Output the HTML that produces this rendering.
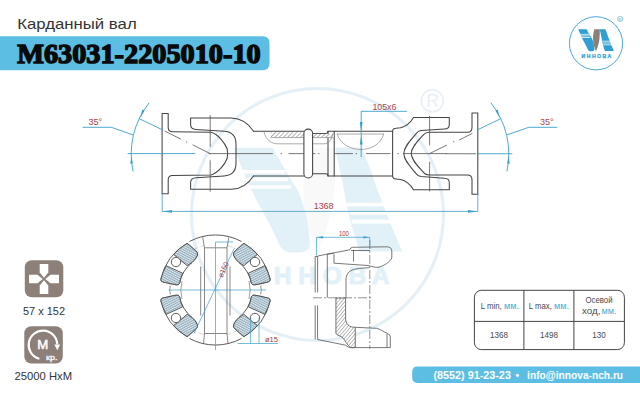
<!DOCTYPE html>
<html><head><meta charset="utf-8">
<style>
html,body{margin:0;padding:0;width:640px;height:400px;overflow:hidden;background:#fff;}
body{position:relative;font-family:"Liberation Sans",sans-serif;}
svg{position:absolute;left:0;top:0;}
text{font-family:"Liberation Sans",sans-serif;}
</style></head><body>
<svg width="640" height="400" viewBox="0 0 640 400">
<defs>
<g id="logoInner">
<path d="M594.4 29.2 L599.8 29.2 C599.9 36 599.6 42 597.6 47 C597 49 596.4 50.5 596 51.2 C594.4 48 593 43 593 38.3 C593 35 593.6 32 594.4 29.2 Z" style="fill:var(--g,#8c7f7a)"/>
<path d="M578.3 29.2 L586.6 29.2 C588.5 33 590.5 36 592 38.5 C593.5 42 594.3 46 594.4 49.6 Q594.3 51.3 592.3 51.3 L590.3 51.3 Q588.7 51.3 588 49.8 C586 45 583.6 41.5 582.4 38.8 C580.8 35.5 579.5 32 578.3 29.2 Z" fill="#2f9fd2"/>
<path d="M599.7 29.2 L605.4 29.2 C606.5 32 607.8 35.5 608.7 38.3 C610.5 43 612.3 47.5 613.9 51.1 L604.9 51.1 C603.5 47 602.3 43 601.6 38.3 C601 35 600.3 32 599.7 29.2 Z" fill="#2f9fd2"/>
<g stroke="#fff" stroke-width="0.75">
<line x1="580.2" y1="34.3" x2="589.2" y2="34.3"/><line x1="580.9" y1="35.9" x2="589.8" y2="35.9"/><line x1="581.6" y1="37.5" x2="590.4" y2="37.5"/>
<line x1="602.2" y1="41.2" x2="610.8" y2="41.2"/><line x1="602.7" y1="43" x2="611.6" y2="43"/><line x1="603.2" y1="44.8" x2="612.4" y2="44.8"/>
</g>
<text x="581.6" y="57.9" font-size="5.2" font-weight="bold" fill="#2f9fd2" stroke="#2f9fd2" stroke-width="0.25" textLength="29.6" lengthAdjust="spacing">ИННОВА</text>
</g>
</defs>
<!-- WATERMARK -->
<g id="wm" opacity="0.135" style="--g:#ddd8d5"><g transform="translate(317.5,214.5) scale(4.74) translate(-596,-43.3)"><use href="#logoInner"/></g>
<circle cx="317.5" cy="214.5" r="126" fill="none" stroke="#3b8fc0" stroke-width="3"/>
<circle cx="432.3" cy="100.8" r="11" fill="none" stroke="#5a8fb0" stroke-width="1.6"/>
<text x="432.5" y="107.2" font-size="17.5" fill="#5a8fb0" text-anchor="middle">R</text>
</g>

<!-- HEADER -->
<text x="17.2" y="29.3" font-size="14.5" fill="#333" textLength="119.5" lengthAdjust="spacingAndGlyphs">Карданный вал</text>
<path d="M0 36.2 H262.5 Q269.5 36.2 269.5 43.2 V63.3 Q269.5 70.3 262.5 70.3 H0 Z" fill="#5cbee2"/>
<text x="17.2" y="63.1" style="font-family:'Liberation Serif',serif" font-weight="bold" font-size="27.5" fill="#0a0a0a" stroke="#0a0a0a" stroke-width="1.45" textLength="243.5" lengthAdjust="spacingAndGlyphs">M63031-2205010-10</text>

<!-- LOGO -->
<g id="logo"><use href="#logoInner"/>
<circle cx="596" cy="43.3" r="26.6" fill="none" stroke="#4aaad2" stroke-width="1"/>
<circle cx="620.3" cy="19" r="2.6" fill="none" stroke="#4aaad2" stroke-width="0.6"/>
<text x="620.3" y="20.6" font-size="4" fill="#4aaad2" text-anchor="middle">R</text>
</g>

<!-- DRAWING -->
<g id="draw" fill="none" stroke-linecap="round" stroke-linejoin="round">
<defs>
<pattern id="hatch" patternUnits="userSpaceOnUse" width="3" height="3" patternTransform="rotate(45)">
<rect width="3" height="3" fill="#fff"/><line x1="0" y1="0" x2="0" y2="3" stroke="#666" stroke-width="1"/>
</pattern>
<g id="shTop">
<!-- left flange top + neck -->
<path d="M162.1 153.6 V113.4 H168.2 V127.5 Q168.2 131.8 172.5 131.8 L211 132.3 C218 134 225 143 227.2 149 L227.6 153.6"/>
<!-- left yoke outline -->
<path d="M253.5 131.2 Q245 118.2 231.5 117.9 L190.6 117.9 L190.6 124.5 Q190.6 129.2 196 129.4 L224 131.3 Q236 132 236 144 L236 153.6"/>
<!-- tube -->
<path d="M253.5 131.2 H303.9"/>
<path d="M312.6 133.4 H326 Q328 133.4 328 131.3 H392.6"/>
<!-- right yoke -->
<path d="M392.6 153.6 L392.6 131.5 Q392.6 128.5 396 128.3 L400.5 127.7 Q408.5 126 413.5 117.5 L449.3 117.5 L449.3 124.5 Q449.3 128.8 444.5 129 L421 130.6 Q418.3 130.9 416.3 133.3 C410.5 140.5 404 146.5 403.8 153.6"/>
<path d="M411.2 153.6 C411.4 147 418 141 423.6 134.6 Q425.7 132.3 429.3 132.2 L467.5 132.2 Q472 132.2 472 127.5 V112.9 H477.8 V153.6"/>
</g>
</defs>
<g stroke="#444" stroke-width="1.05">
<use href="#shTop"/>
<use href="#shTop" transform="matrix(1 0 0 -1 0 307.2)"/>
<line x1="328" y1="131.3" x2="328" y2="175.9"/>
<line x1="334.2" y1="131.3" x2="334.2" y2="175.9"/>
</g>
<!-- hatch strips -->
<rect x="271" y="132.2" width="32.9" height="5.4" fill="url(#hatch)" stroke="none"/>
<rect x="312.6" y="133.9" width="21" height="3.7" fill="url(#hatch)" stroke="none"/>
<g stroke="#8a8a8a" stroke-width="0.7">
<path d="M264 132 C266 140 271 143.8 278 143.8 L324 143.8 C329 143.8 332 139 333 133.5"/>
<line x1="271" y1="137.6" x2="303.9" y2="137.6"/>
<line x1="312.6" y1="137.6" x2="333" y2="137.6"/>
<path d="M337.3 134 H383.7 M337.3 134 C340 145 352 149.5 361 149.5 C370 149.5 381 145 383.7 134"/>
</g>
<!-- center lines gray -->
<g stroke="#555" stroke-width="0.8">
<path d="M209 153.6 H272.5 M281 153.6 H281.6 M289 153.6 H315 M318.5 153.6 H319 M334.5 153.6 H352.5 M356 153.6 H356.6 M366.5 153.6 H390 M398 153.6 H398.6 M404 153.6 H446.2"/>
<path d="M446.2 153.75 H475.6"/>
<path d="M210.2 115.6 V146.5 M210.2 160.7 V191.3"/>
<path d="M429.6 116.2 V145 M429.6 162.2 V191"/>
<path d="M165 131.2 L180.6 139 M186.3 141.9 L186.8 142.1 M193 145 L210.2 153.6"/>
<path d="M429.6 153.6 L446.6 145.2 M453.4 141.8 L454 141.5 M459.4 139.9 L472 133.6"/>
</g>
<rect x="303.9" y="129.1" width="8.7" height="48.8" rx="4.2" fill="#fff" stroke="#444" stroke-width="1.05"/>
<!-- blue dims -->
<g stroke="#3a9fc8" stroke-width="0.9">
<path d="M128 153.6 H194.5"/>
<path d="M477.8 153.75 H511.9"/>
<path d="M149 103 A81 81 0 0 0 133 171"/>
<path d="M491 103 A81 81 0 0 1 507 171"/>
<path d="M139.5 118.8 L162.1 129.7"/>
<path d="M500.5 118.8 L477.8 129.7"/>
<path d="M83.1 127.3 H111.3 L132.8 134.8"/>
<path d="M556.9 127.3 H528.7 L507.2 134.8"/>
<path d="M162.2 193.6 V211.4 H477.8 V193.7" stroke="#4f9fc2" stroke-width="0.85"/>
<path d="M361.2 156.8 V111.3 H406.4"/>
</g>
<g fill="#3a9fc8" stroke="none">
<path d="M140.2 117.8 L142.3 109.6 L144.6 110.8 Z"/>
<path d="M131.6 156.2 L130.2 163.5 L132.8 163.5 Z"/>
<path d="M499.8 117.8 L497.7 109.6 L495.4 110.8 Z"/>
<path d="M508.4 156.2 L509.8 163.5 L507.2 163.5 Z"/>
<path d="M162.6 211.4 L172 210 L172 212.8 Z"/>
<path d="M477.4 211.4 L468 210 L468 212.8 Z"/>
<path d="M361.2 131.4 L359.8 122 L362.6 122 Z"/>
<path d="M361.2 135.8 L359.8 144.4 L362.6 144.4 Z"/>
</g>
<g fill="#a3444c" stroke="none" font-size="9.5">
<text x="88.6" y="124.6" textLength="13.6" lengthAdjust="spacingAndGlyphs">35°</text>
<text x="540" y="124.6" textLength="13.6" lengthAdjust="spacingAndGlyphs">35°</text>
<text x="313.7" y="208.9" textLength="19.8" lengthAdjust="spacingAndGlyphs">1368</text>
<text x="372.4" y="109.5" textLength="24" lengthAdjust="spacingAndGlyphs">105x6</text>
</g>
</g>


<!-- FLANGE VIEW -->
<defs>
<pattern id="stripes" patternUnits="userSpaceOnUse" width="4" height="2.1" patternTransform="rotate(28)">
<rect width="4" height="2.1" fill="#d9e9f1"/><line x1="0" y1="0.6" x2="4" y2="0.6" stroke="#7a909e" stroke-width="0.75"/>
</pattern>
<g id="blk">
<path d="M-28.5 -46.6 A55 55 0 0 0 -54.6 -11 Q-55 -8.5 -52.5 -8 L-39.5 -5.2 Q-37 -4.8 -36 -6.5 A35.8 35.8 0 0 1 -23.5 -27.5 Q-19.5 -31 -18 -35 Q-17.5 -38 -20.5 -39.8 L-26 -44.6 Q-27.5 -46.5 -28.5 -46.6 Z" fill="#fff"/>
<path d="M-28.5 -46.6 A55 55 0 0 0 -41.9 -35.6 L-28.3 -24.3 A35.8 35.8 0 0 1 -23.5 -27.5 Q-19.5 -31 -18 -35 Q-17.5 -38 -20.5 -39.8 L-26 -44.6 Q-27.5 -46.5 -28.5 -46.6 Z" fill="url(#stripes)"/>
<path d="M-49.3 -24.3 A55 55 0 0 0 -54.6 -11 Q-55 -8.5 -52.5 -8 L-39.5 -5.2 Q-37 -4.8 -36 -6.5 A35.8 35.8 0 0 1 -32.8 -16.8 Z" fill="url(#stripes)"/>
<circle cx="-39.5" cy="-28" r="4.7" fill="#fff"/>
</g>
</defs>
<g transform="translate(215.5,290)" fill="none" stroke="#4a4a4a" stroke-width="0.9">
<path d="M-26 -48.5 A55 55 0 0 1 26 -48.5 M-26 48.5 A55 55 0 0 0 26 48.5"/>
<path d="M-45 -4 Q-46.8 0 -45 4 M45 -4 Q46.8 0 45 4" stroke="#777" stroke-width="0.7"/>
<path d="M-33.5 -9 A34.5 34.5 0 0 0 -33.5 9 M33.5 -9 A34.5 34.5 0 0 1 33.5 9" stroke="#777" stroke-width="0.7"/>
<path d="M11.5 -44.5 A46 46 0 0 1 11.5 44.5 M-11.5 44.5 A46 46 0 0 1 -11.5 -44.5" stroke="#aaa" stroke-width="0.5" stroke-dasharray="6 3"/>
<use href="#blk"/>
<use href="#blk" transform="scale(-1,1)"/>
<use href="#blk" transform="scale(1,-1)"/>
<use href="#blk" transform="scale(-1,-1)"/>
<path d="M-12.8 -52.8 L-11 -42.2 H11.5 L13.3 -52.6 M-11 -42.2 V43.5 M11.5 -42.2 V43.5 M-11 43.5 L-12 53.8 M11.5 43.5 L12.5 53.6 M-11 43.5 H11.5" stroke="#555" stroke-width="0.7"/>
<path d="M-14.8 -23.5 V25.5 M14.5 -23.5 V25.5" stroke="#555" stroke-width="0.7"/>

</g>
<g stroke="#3a9fc8" stroke-width="0.7" fill="none">
<path d="M168.5 290 H266"/>
<path d="M194 333.5 L234.5 247.8"/>
<path d="M215.5 242 V350 M215.5 242 H233"/>
<path d="M237.7 343.5 H278 M250.6 318 V343.5 M259 318 V343.5"/>
</g>
<g fill="#a3444c" font-size="7.5" stroke="none">
<text transform="translate(222.5,278) rotate(-66)" textLength="16" lengthAdjust="spacingAndGlyphs">ø150</text>
<text x="265" y="342" textLength="13" lengthAdjust="spacingAndGlyphs">ø15</text>
</g>

<!-- SECTION VIEW -->
<g fill="none" stroke="#555" stroke-width="0.8">
<path d="M315.2 256.5 V292.5 M317.6 256 V292.5 M315.2 256.5 H317.6 M315.2 305.4 V339.5 M317.6 305.4 V339.5"/>
<path d="M317.6 256 L349.8 249.8 Q350.5 247.5 352.5 247.3 L386.5 246.8 Q391.8 246.8 391.8 251 V258 C390 262 384 266 378 267.3 C375 267.6 372 266.5 368 265.5 L334 263.2 V254.2"/>
<path d="M351 250.5 H370 M353.5 249.8 V261.5"/>
<path d="M327.3 254.2 V297.8 M327.3 254.2 L334 253.2"/>
<path d="M369.3 267.8 C360 268 352 269 349 272 C346.5 274.5 346 277 346 280 V298"/>
<path d="M317.6 339.5 L345.6 345.2 Q348 347.6 351 347.6 H390.3 V337 Q390.3 334.5 387.5 333.5 C383 331.5 380 329 376.5 328.3 L355.3 327.3 M387 334 V347.6"/>
</g>
<path d="M335.9 298 H345.6 V318 C345.6 324 349 327.3 355.3 327.3 V347.6 H350.5 C347 345 345 340 342 337 C339 335.5 336 335 335.9 333 Z" fill="url(#hatch2)" stroke="#555" stroke-width="0.8"/>
<defs>
<pattern id="hatch2" patternUnits="userSpaceOnUse" width="2.6" height="2.6" patternTransform="rotate(40)">
<rect width="2.6" height="2.6" fill="#fff"/><line x1="0" y1="0" x2="0" y2="2.6" stroke="#555" stroke-width="0.8"/>
</pattern>
</defs>
<g fill="none" stroke="#666" stroke-width="0.7" stroke-dasharray="9 2 2 2">
<path d="M369.8 240 V349"/>
<path d="M313 297.8 H372"/>
</g>
<g stroke="#3a9fc8" stroke-width="0.7" fill="none">
<path d="M316.5 255.5 V237.3 H369.8 V246"/>
</g>
<g fill="#3a9fc8" stroke="none">
<path d="M316.8 237.3 L323 236.2 L323 238.4 Z"/>
<path d="M369.5 237.3 L363.3 236.2 L363.3 238.4 Z"/>
</g>
<text x="338.9" y="235.9" font-size="7.5" fill="#a3444c" textLength="10" lengthAdjust="spacingAndGlyphs">100</text>

<!-- ICONS -->
<rect x="24.8" y="260.2" width="38.5" height="37" rx="7" fill="#8d8079"/>
<g fill="#fff" transform="translate(44,279)">
<path d="M-4.3 -15 H4.3 V-6.5 L0 -1.3 L-4.3 -6.5 Z"/>
<path d="M-4.3 15 H4.3 V6.5 L0 1.3 L-4.3 6.5 Z"/>
<path d="M-15 -4.3 V4.3 H-6.5 L-1.3 0 L-6.5 -4.3 Z"/>
<path d="M15 -4.3 V4.3 H6.5 L1.3 0 L6.5 -4.3 Z"/>
</g>
<rect x="24.3" y="326.3" width="38.5" height="37.2" rx="7" fill="#8d8079"/>
<path d="M57.2 343.5 A14.3 14.3 0 1 0 38.5 358.5" fill="none" stroke="#fff" stroke-width="2.2" stroke-linecap="round"/>
<path d="M54.4 344.6 L57.3 350.2 L60.2 344.6 Z" fill="#fff"/>
<text x="37.3" y="348.8" font-size="12" fill="#fff" stroke="#fff" stroke-width="0.45" textLength="11" lengthAdjust="spacingAndGlyphs">М</text>
<text x="46" y="359.5" font-size="8" fill="#fff" stroke="#fff" stroke-width="0.3" textLength="11.5" lengthAdjust="spacingAndGlyphs">кр.</text>
<text x="23" y="314.5" font-size="11" fill="#333" textLength="42" lengthAdjust="spacingAndGlyphs">57 x 152</text>
<text x="14.6" y="380.2" font-size="11" fill="#333" textLength="57.5" lengthAdjust="spacingAndGlyphs">25000 HxM</text>

<!-- TABLE -->
<g id="table">
<rect x="474.4" y="290.3" width="150" height="59.3" rx="7" fill="none" stroke="#444" stroke-width="1"/>
<line x1="523.9" y1="290.3" x2="523.9" y2="349.6" stroke="#444" stroke-width="1"/>
<line x1="573.9" y1="290.3" x2="573.9" y2="349.6" stroke="#444" stroke-width="1"/>
<line x1="474.4" y1="321.4" x2="624.4" y2="321.4" stroke="#444" stroke-width="1"/>
<g font-size="8.2" fill="#4a4a4a">
<text x="480.8" y="309.3" textLength="21" lengthAdjust="spacingAndGlyphs">L min,</text>
<text x="504" y="309.3" fill="#3ab0d5" textLength="15" lengthAdjust="spacingAndGlyphs">мм.</text>
<text x="528.8" y="309.3" textLength="23" lengthAdjust="spacingAndGlyphs">L max,</text>
<text x="554" y="309.3" fill="#3ab0d5" textLength="15" lengthAdjust="spacingAndGlyphs">мм.</text>
<text x="599" y="302.8" text-anchor="middle" textLength="27" lengthAdjust="spacingAndGlyphs">Осевой</text>
<text x="582" y="313.6" textLength="18.5" lengthAdjust="spacingAndGlyphs">ход,</text>
<text x="601.5" y="313.6" fill="#3ab0d5" textLength="15" lengthAdjust="spacingAndGlyphs">мм.</text>
<text x="499" y="337.5" text-anchor="middle" textLength="18" lengthAdjust="spacingAndGlyphs">1368</text>
<text x="549" y="337.5" text-anchor="middle" textLength="18" lengthAdjust="spacingAndGlyphs">1498</text>
<text x="599" y="337.5" text-anchor="middle" textLength="13.5" lengthAdjust="spacingAndGlyphs">130</text>
</g>
</g>

<!-- FOOTER -->
<path d="M417.5 366.6 H640 V382.9 H417.5 Q412.2 382.9 412.2 377.6 V371.9 Q412.2 366.6 417.5 366.6 Z" fill="#5cbee2"/>
<text x="433.4" y="378.7" font-size="11" font-weight="bold" fill="#fff" textLength="77.5" lengthAdjust="spacingAndGlyphs">(8552) 91-23-23</text>
<circle cx="517.5" cy="375.3" r="1.6" fill="#fff"/>
<text x="527.1" y="378.7" font-size="11" font-weight="bold" fill="#fff" textLength="96" lengthAdjust="spacingAndGlyphs">info@innova-nch.ru</text>
</svg>
</body></html>
